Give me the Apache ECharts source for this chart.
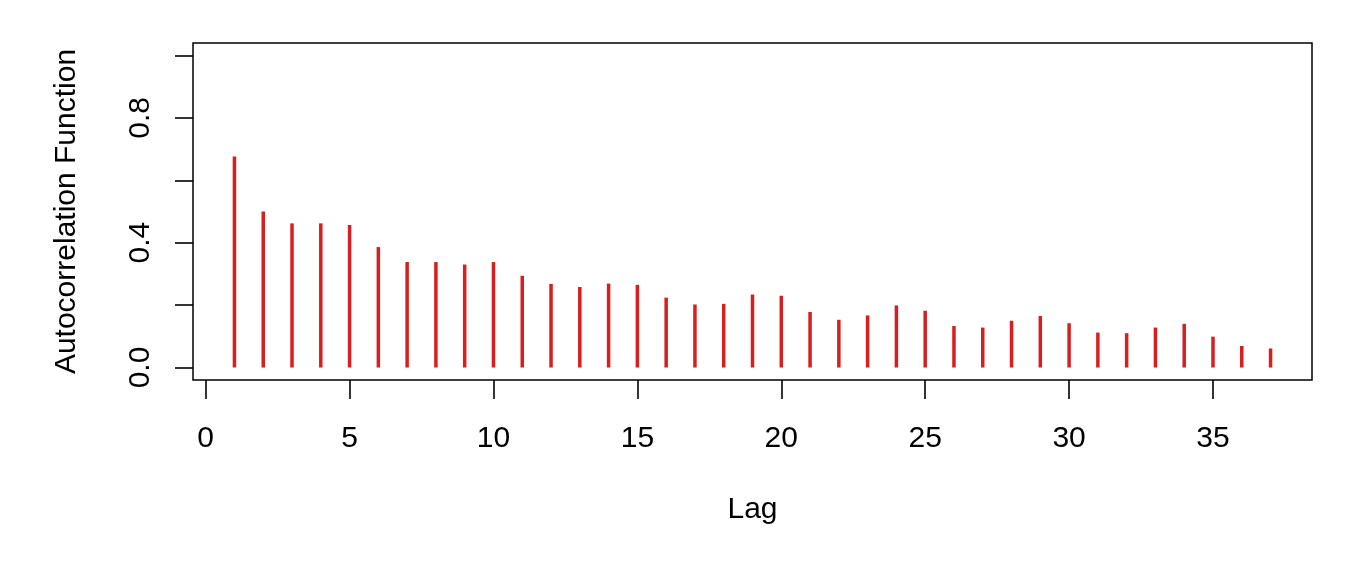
<!DOCTYPE html>
<html>
<head>
<meta charset="utf-8">
<script src="https://cdn.jsdelivr.net/npm/echarts@6/dist/echarts.min.js"></script>
<style>
  html, body { margin: 0; padding: 0; background: #fff; }
  #chart { width: 1360px; height: 565px; }
</style>
</head>
<body>
<div id="chart"></div>
<script>
const lags = [1,2,3,4,5,6,7,8,9,10,11,12,13,14,15,16,17,18,19,20,21,22,23,24,25,26,27,28,29,30,31,32,33,34,35,36,37];
const acf = [0.676,0.500,0.462,0.462,0.457,0.386,0.338,0.338,0.330,0.338,0.294,0.268,0.258,0.269,0.265,0.224,0.202,0.204,0.234,0.230,0.178,0.153,0.167,0.199,0.182,0.133,0.128,0.150,0.165,0.142,0.112,0.110,0.128,0.140,0.099,0.069,0.061];
const xTicks = [0,5,10,15,20,25,30,35];
const yTicks = [0,0.2,0.4,0.6,0.8,1.0];
const yLabels = [0,0.4,0.8];
const xTitle = 'Lag';
const yTitle = 'Autocorrelation Function';

const FONT = "'Liberation Sans', Arial, Helvetica, sans-serif";
const chart = echarts.init(document.getElementById('chart'), null, { renderer: 'canvas' });
chart.setOption({
  animation: false,
  backgroundColor: '#fff',
  grid: {
    left: 193, right: 48, top: 43, bottom: 185,
    show: true, borderColor: '#000', borderWidth: 1.5, backgroundColor: 'transparent'
  },
  xAxis: {
    type: 'value', min: -0.44, max: 38.44,
    axisLine: { show: false, onZero: false },
    axisTick: { show: true, inside: false, length: 19, customValues: xTicks, lineStyle: { color: '#000', width: 1.6 } },
    axisLabel: { show: true, customValues: xTicks, margin: 44, color: '#000', fontSize: 30, fontFamily: FONT },
    splitLine: { show: false },
    name: xTitle, nameLocation: 'middle', nameGap: 115,
    nameTextStyle: { color: '#000', fontSize: 30, fontFamily: FONT }
  },
  yAxis: {
    type: 'value', min: -0.04, max: 1.04,
    axisLine: { show: false, onZero: false },
    axisTick: { show: true, inside: false, length: 18, customValues: yTicks, lineStyle: { color: '#000', width: 1.6 } },
    axisLabel: { show: true, customValues: yLabels, rotate: 90, margin: 37, color: '#000', fontSize: 30, fontFamily: FONT,
      formatter: v => Number(v).toFixed(1) },
    splitLine: { show: false },
    name: yTitle, nameLocation: 'middle', nameGap: 111,
    nameTextStyle: { color: '#000', fontSize: 30, fontFamily: FONT }
  },
  series: [{
    type: 'bar',
    data: lags.map((l, i) => [l, acf[i]]),
    barWidth: 3.5,
    itemStyle: { color: '#d81e1e' },
    silent: true
  }]
});
</script>
</body>
</html>
